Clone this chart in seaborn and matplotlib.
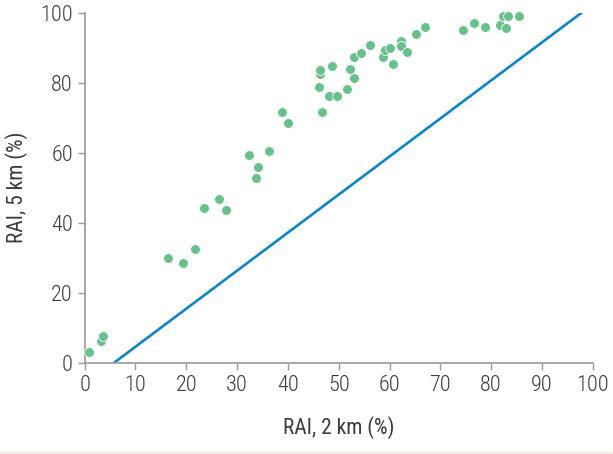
import numpy as np
import pandas as pd
import matplotlib
matplotlib.use("Agg")
import matplotlib.pyplot as plt
import seaborn as sns
from matplotlib.patches import Rectangle

# RAI at 2 km vs 5 km (%)
rai_2km = [0.9, 3.3, 3.6, 16.5, 19.3, 21.7,
           23.4, 26.5, 27.8, 32.3, 34.1, 33.7, 36.3, 38.9, 40.0,
           46.3, 46.3, 48.7, 46.1, 48.1, 49.6, 46.7, 51.6, 53.1, 52.2,
           53.0, 54.3, 56.1, 58.7, 59.2, 60.1, 60.7, 62.2, 62.2, 63.5,
           65.2, 67.0, 74.4, 76.6, 78.7, 81.8, 82.9, 82.3, 83.4, 85.5]
rai_5km = [3.1, 6.3, 7.6, 29.9, 28.6, 32.5,
           44.3, 46.9, 43.6, 59.3, 56.0, 52.7, 60.6, 71.6, 68.4,
           82.6, 83.5, 84.8, 78.9, 76.2, 76.2, 71.6, 78.2, 81.4, 84.0,
           87.3, 88.6, 90.7, 87.3, 89.3, 90.0, 85.4, 91.9, 90.5, 88.7,
           93.8, 95.9, 95.1, 97.1, 95.9, 96.5, 95.7, 99.1, 99.1, 99.1]

# reference line
line_x = [5.8, 97.8]
line_y = [0, 100]

x_ticks = list(range(0, 101, 10))
y_ticks = list(range(0, 101, 20))

sns.set_style("ticks")
plt.rcParams["font.family"] = ["Roboto Condensed", "DejaVu Sans"]
plt.rcParams["font.weight"] = 300

txt = "#3b3b3b"
grey = "#9a9a9a"

fig = plt.figure(figsize=(6.13, 4.54), dpi=100)
ax = fig.add_axes([0.138, 0.201, 0.829, 0.771])

pts = pd.DataFrame({"x": rai_2km, "y": rai_5km})
sns.lineplot(x=line_x, y=line_y, ax=ax, color="#0a86c8", linewidth=1.9)
sns.scatterplot(data=pts, x="x", y="y", ax=ax, color="#68c08b", s=50,
                edgecolor="white", linewidth=0.6, alpha=1, clip_on=False,
                zorder=3)

ax.set_xlim(0, 100)
ax.set_ylim(0, 100)
ax.set_xticks(x_ticks)
ax.set_yticks(y_ticks)
ax.tick_params(colors=grey, labelcolor=txt, labelsize=16, length=5, width=1)
ax.set_xlabel("RAI, 2 km (%)", fontsize=15.5, color=txt, labelpad=15)
ax.set_ylabel("RAI, 5 km (%)", fontsize=15.5, color=txt, labelpad=9)
for s in ["top", "right"]:
    ax.spines[s].set_visible(False)
for s in ["left", "bottom"]:
    ax.spines[s].set_color(grey)
    ax.spines[s].set_linewidth(1.2)

fig.patches.append(Rectangle((0, 0), 1, 0.006, transform=fig.transFigure,
                             facecolor="#fbeee4", edgecolor="none"))

fig.savefig("out.png", dpi=100)
